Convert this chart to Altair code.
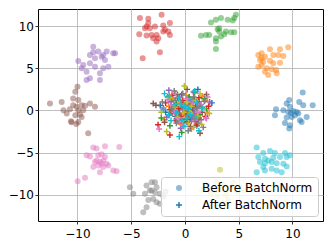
import altair as alt
import pandas as pd

TYPES = ["Before BatchNorm", "After BatchNorm"]
COLORS = ["#1f77b4", "#ff7f0e", "#2ca02c", "#d62728", "#9467bd",
          "#8c564b", "#e377c2", "#7f7f7f", "#bcbd22", "#17becf"]
X_TICKS = [-10, -5, 0, 5, 10]
Y_TICKS = [-10, -5, 0, 5, 10]

# Before BatchNorm clusters (x, y)
before_blue = [(10.95, 2.14), (10.63, 1.02), (11.0, 0.63), (11.88, 0.63), (9.7, 1.23), (9.46, 0.83),
               (9.77, 0.43), (8.47, 0.15), (9.15, 0.04), (9.61, -0.17), (10.08, -0.05), (10.23, -0.56),
               (10.54, -0.36), (8.37, -0.56), (9.46, -0.83), (9.92, -0.76), (10.7, -1.16), (10.85, -1.36),
               (9.3, -1.48), (9.77, -1.75), (9.7, -2.14), (10.39, -0.17), (11.32, -0.76), (9.85, -0.3)]
before_orange = [(7.91, 7.26), (8.84, 7.26), (9.61, 7.5), (6.82, 6.58), (7.13, 6.79), (7.44, 6.38),
                 (8.22, 6.58), (8.68, 6.58), (9.15, 6.46), (6.98, 5.99), (7.28, 5.79), (7.91, 5.9),
                 (8.22, 5.6), (8.84, 5.67), (6.82, 5.19), (7.13, 5.39), (7.6, 5.0), (8.06, 4.88),
                 (8.53, 4.4), (7.75, 4.2), (7.44, 4.6), (7.13, 6.19), (8.47, 4.8)]
before_green = [(2.42, 10.43), (2.88, 10.75), (3.35, 10.95), (3.97, 10.75), (4.59, 10.95), (4.74, 11.35),
                (3.04, 9.64), (3.19, 9.36), (3.81, 9.36), (4.28, 9.28), (4.59, 9.28), (1.49, 8.85),
                (1.95, 8.96), (2.26, 8.96), (2.88, 8.57), (3.35, 8.76), (3.66, 9.05), (2.88, 8.17),
                (2.88, 7.3), (4.44, 10.67), (3.19, 9.76)]
before_red = [(-4.19, 10.95), (-3.41, 10.87), (-2.17, 11.35), (-1.4, 10.36), (-3.41, 10.36), (-3.57, 9.95),
              (-3.72, 9.76), (-2.79, 9.95), (-2.02, 10.07), (-1.86, 9.56), (-1.55, 9.36), (-1.4, 8.96),
              (-4.25, 9.05), (-3.57, 8.88), (-3.1, 8.96), (-2.64, 8.96), (-2.95, 8.57), (-2.64, 8.17),
              (-2.48, 8.57), (-2.02, 9.36), (-2.33, 6.9), (-3.93, 6.19), (-3.26, 9.76)]
before_purple = [(-8.53, 7.57), (-8.06, 6.98), (-7.28, 6.98), (-6.67, 6.79), (-8.84, 6.58), (-8.37, 6.19),
                 (-7.75, 6.38), (-7.44, 5.99), (-9.92, 5.87), (-9.46, 5.39), (-9.61, 5.0), (-8.84, 5.6),
                 (-8.37, 5.19), (-7.6, 5.0), (-7.13, 5.19), (-9.15, 4.6), (-7.91, 4.4), (-8.84, 3.81),
                 (-7.91, 3.61), (-8.53, 6.9), (-7.6, 6.58), (-6.5, 6.79), (-9.15, 3.6)]
before_brown = [(-10.0, 2.81), (-10.2, 2.21), (-10.4, 1.43), (-9.92, 1.23), (-12.56, 0.83), (-11.47, 1.02),
                (-10.39, 0.63), (-10.08, 0.43), (-9.61, 0.63), (-9.3, 0.55), (-8.84, 0.83), (-8.37, 0.43),
                (-11.3, 0.04), (-10.7, 0.15), (-9.92, 0.04), (-9.46, 0.04), (-11.0, -0.36), (-10.2, -0.56),
                (-9.77, -0.48), (-10.6, -1.27), (-9.92, -1.36), (-9.61, -0.76), (-9.0, -2.7),
                (-10.1, -1.6), (-10.55, -1.4)]
before_pink = [(-8.53, -4.4), (-8.22, -4.52), (-7.44, -4.25), (-6.11, -4.33), (-9.15, -5.32), (-8.84, -5.44),
               (-8.06, -5.32), (-7.75, -5.2), (-7.44, -5.52), (-8.22, -5.92), (-7.91, -6.12), (-7.6, -5.92),
               (-7.29, -6.31), (-8.53, -6.71), (-8.06, -6.51), (-7.6, -6.71), (-7.13, -6.51), (-7.91, -7.31),
               (-6.67, -7.1), (-6.36, -7.19), (-9.3, -7.98), (-9.98, -8.38), (-8.37, -6.12), (-7.75, -6.31)]
before_gray = [(-5.12, -9.1), (-4.81, -9.88), (-3.57, -8.89), (-3.1, -8.5), (-2.79, -8.5), (-2.64, -9.1),
               (-3.26, -9.49), (-3.72, -9.88), (-2.33, -9.88), (-3.41, -10.6), (-2.95, -10.48), (-2.64, -10.88),
               (-2.33, -11.07), (-3.57, -11.48), (-3.88, -12.07), (-3.1, -9.49), (-2.79, -9.69),
               (-1.8, -9.6), (-2.0, -10.2)]
before_olive = [(3.26, -7.02), (2.0, -9.0), (2.8, -9.5), (3.5, -8.8), (4.2, -9.3), (3.0, -10.2),
                (3.8, -10.0), (4.8, -9.6), (2.4, -9.9), (3.3, -9.2), (5.5, -9.5), (4.0, -10.6),
                (1.6, -9.4), (3.6, -11.0), (4.5, -8.6), (2.9, -8.5)]
before_cyan = [(6.67, -4.4), (7.28, -5.04), (7.91, -4.8), (8.37, -5.04), (9.3, -5.04), (9.77, -5.32),
               (6.82, -5.52), (7.44, -5.72), (7.75, -5.92), (8.22, -5.6), (8.84, -5.52), (9.46, -5.52),
               (6.98, -6.12), (7.44, -6.24), (8.06, -6.12), (8.53, -6.24), (9.15, -6.31), (7.28, -6.71),
               (8.06, -6.9), (8.53, -7.1), (9.0, -7.31), (9.46, -6.63), (6.67, -7.31), (7.44, -7.1)]

# After BatchNorm (x, y)
after_blue = [(1.2, 2.5), (2.5, 0.9), (-0.5, 0.3), (0.8, -0.6), (-1.3, 1.1), (0.2, -1.4), (1.6, 0.4),
              (-0.9, -0.7), (0.4, 1.5), (-1.8, -0.2), (1.1, -1.8), (-0.2, 0.9), (0.7, 0.2), (-2.3, 0.6),
              (0.1, -0.4), (-0.6, -1.3), (1.3, 1.0), (-1.1, 0.2), (0.5, -1.0), (-0.3, 1.9)]
after_orange = [(1.9, 1.2), (0.5, 0.7), (-0.7, -0.4), (1.3, -0.9), (-1.5, 0.5), (0.1, 1.8), (2.1, -0.3),
                (-0.4, -1.6), (0.9, 0.1), (-1.1, 1.4), (1.6, 1.7), (-0.1, -0.5), (0.6, -2.2), (-1.9, -1.1),
                (0.3, 0.2), (-0.8, 0.9), (1.1, -0.4), (-0.3, -1.1), (0.7, 1.3), (-1.3, -0.2)]
after_green = [(-2.2, -0.9), (1.8, 1.4), (0.3, -0.2), (-0.8, 0.8), (1.0, -1.3), (-1.4, -1.8), (0.6, 1.1),
               (-0.3, -2.6), (2.0, 0.2), (-0.1, 0.4), (1.4, -0.5), (-1.6, 1.6), (0.2, -1.0), (0.9, 2.1),
               (-0.6, -0.6), (1.2, 0.7), (-1.0, -0.1), (0.4, 1.6), (-0.2, -1.5), (0.8, -0.3)]
after_red = [(-1.4, -2.9), (-1.2, 1.8), (1.3, 1.5), (0.4, -0.8), (-0.6, 0.2), (1.9, -0.7), (-1.8, 0.9),
             (0.7, 0.6), (-0.2, 1.2), (1.1, -1.6), (-0.9, -1.2), (2.2, 0.5), (0.0, -0.2), (-2.5, -1.7),
             (0.5, 0.1), (-0.4, -0.7), (1.0, 1.0), (-1.2, 0.4), (0.2, -1.3), (-0.7, 1.5)]
after_purple = [(-1.5, 2.4), (0.8, 2.2), (-0.4, -2.1), (1.5, -1.1), (-1.0, 0.0), (0.3, 0.5), (-1.7, -0.8),
                (1.2, 0.9), (-0.5, 1.6), (0.6, -1.3), (2.3, 1.0), (-2.0, 0.3), (0.1, -0.6), (1.7, -2.0),
                (-0.2, 0.1), (0.9, -0.2), (-0.8, -1.0), (0.4, 1.2), (-1.3, 1.0), (0.7, -0.7)]
after_brown = [(-2.95, 0.83), (-2.7, 0.63), (0.2, 2.5), (1.4, -2.7), (-0.3, -1.0), (0.9, 1.3), (-1.2, -0.3),
               (1.6, -0.2), (-0.7, 1.9), (0.5, -1.9), (-1.9, -1.4), (1.0, 0.4), (-0.1, 0.7), (2.0, 1.9),
               (0.3, -0.4), (-0.9, 0.5), (1.2, -1.0), (-0.5, -0.3), (0.6, 0.9), (-1.4, 0.1)]
after_pink = [(-2.4, -2.2), (2.0, -0.95), (2.1, 1.6), (1.95, -0.9), (-0.6, -0.9), (0.7, 1.0), (-1.3, 0.6),
              (1.2, -0.2), (-0.2, -1.8), (0.4, 0.3), (-1.6, 1.3), (0.9, -1.2), (-0.9, 2.0), (1.5, 0.7),
              (-0.1, 0.6), (0.6, -0.5), (-1.0, -0.2), (0.2, 1.4), (-0.5, -1.4), (1.1, 0.2)]
after_gray = [(-1.0, 2.3), (0.3, -2.4), (-0.4, 1.1), (1.1, 0.3), (-1.5, -0.6), (0.6, -0.6), (1.8, 1.1),
              (-0.8, -1.5), (0.0, 0.0), (-2.1, 1.0), (1.3, -1.5), (-0.2, 2.0), (0.8, 1.6), (-1.2, 0.2),
              (0.4, 0.6), (-0.6, -0.4), (0.9, -1.0), (-0.3, 0.4), (1.4, 0.5), (-0.9, 1.2)]
after_olive = [(-0.06, 2.9), (1.55, -1.67), (2.26, -0.36), (-1.7, -2.5), (0.5, -0.3), (-0.9, 0.4), (1.0, 1.2),
               (-0.3, -1.2), (1.7, 0.2), (-1.4, 1.5), (0.2, 1.0), (0.8, -2.0), (-2.2, -0.2), (1.4, 2.0),
               (-0.1, -0.2), (0.6, 0.5), (-0.7, -0.8), (1.2, -0.7), (-0.5, 0.8), (0.3, -1.5)]
after_cyan = [(-1.46, 1.74), (-0.53, -3.1), (-1.9, 2.0), (0.3, 0.2), (-0.8, -0.3), (1.0, -0.8), (-0.4, 0.8),
              (0.6, 1.3), (-1.3, -1.2), (1.6, 0.3), (-0.1, -1.9), (0.9, 2.3), (-2.0, 0.1), (0.2, -0.9),
              (1.3, -2.4), (-0.6, 1.5), (0.0, 0.5), (-0.9, 0.7), (0.5, -0.5), (-0.3, -1.2), (1.1, 0.9),
              (-1.5, -0.5)]

BEFORE = [before_blue, before_orange, before_green, before_red, before_purple,
          before_brown, before_pink, before_gray, before_olive, before_cyan]
AFTER = [after_blue, after_orange, after_green, after_red, after_purple,
         after_brown, after_pink, after_gray, after_olive, after_cyan]

rows = []
for i, (b, a) in enumerate(zip(BEFORE, AFTER)):
    for x, y in b:
        rows.append({"x": x, "y": y, "cls": str(i), "kind": TYPES[0]})
    for x, y in a:
        rows.append({"x": x, "y": y, "cls": str(i), "kind": TYPES[1]})
df = pd.DataFrame(rows)

PLUS = "M-1,-0.24H-0.24V-1H0.24V-0.24H1V0.24H0.24V1H-0.24V0.24H-1Z"
FONT = "DejaVu Sans"

legend = alt.Legend(
    title=None, orient="bottom-right", offset=5,
    labelFont=FONT, labelFontSize=12, labelColor="black",
    symbolSize=36, symbolFillColor="#1f77b4", symbolStrokeColor="#1f77b4",
    symbolStrokeWidth=0, symbolOffset=7, labelOffset=17, rowPadding=5,
    padding=5, fillColor="rgba(255,255,255,0.8)", strokeColor="#cccccc",
    cornerRadius=3,
)

axis_common = dict(title=None, grid=True, gridColor="#b0b0b0", gridWidth=0.8,
                   domain=False, ticks=True, tickColor="black", tickSize=3, tickWidth=0.8,
                   labelFont=FONT, labelFontSize=12, labelColor="black")

chart = alt.Chart(df).mark_point(filled=True, size=36, strokeWidth=0).encode(
    x=alt.X("x:Q", scale=alt.Scale(domain=[-13.67, 12.84], nice=False, zero=False),
            axis=alt.Axis(values=X_TICKS, labelPadding=4, **axis_common)),
    y=alt.Y("y:Q", scale=alt.Scale(domain=[-13.1, 12.03], nice=False, zero=False),
            axis=alt.Axis(values=Y_TICKS, labelPadding=1.5, **axis_common)),
    color=alt.Color("cls:N", scale=alt.Scale(domain=[str(i) for i in range(10)], range=COLORS), legend=None),
    shape=alt.Shape("kind:N", scale=alt.Scale(domain=TYPES, range=["circle", PLUS]), legend=legend),
    opacity=alt.Opacity("kind:N", scale=alt.Scale(domain=TYPES, range=[0.5, 1.0]), legend=legend),
).properties(
    width=285, height=212,
    autosize=alt.AutoSizeParams(type="none"),
    padding={"left": 30, "top": 1, "right": 1, "bottom": 24},
).configure_view(stroke="black", strokeWidth=1)

chart.save("out.html", embed_options={"renderer": "svg", "actions": False})
